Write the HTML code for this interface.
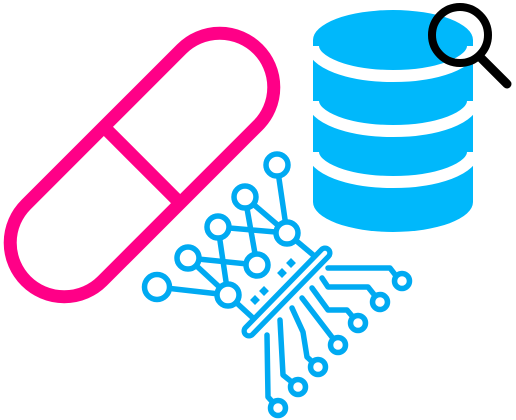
<!DOCTYPE html>
<html><head><meta charset="utf-8"><style>html,body{margin:0;padding:0;background:#fff}svg{display:block}</style></head>
<body>
<svg width="516" height="420" viewBox="0 0 516 420" xmlns="http://www.w3.org/2000/svg">
<!-- pill -->
<g transform="translate(142,165) rotate(-45)" fill="none" stroke="#ff0087" stroke-width="13">
<rect x="-164" y="-54" width="328" height="108" rx="54"/>
<line x1="0" y1="-54" x2="0" y2="54"/>
</g>
<!-- database -->
<path d="M313,40 L313,202 A80,30 0 0 0 473,202 L473,40 Z" fill="#00b8fb"/>
<ellipse cx="393" cy="40" rx="80" ry="30" fill="#00b8fb"/>
<g fill="none" stroke="#fff" stroke-width="12">
<path d="M313,46 A80,30 0 0 0 473,46"/>
<path d="M313,101 A80,30 0 0 0 473,101"/>
<path d="M313,152 A80,30 0 0 0 473,152"/>
</g>
<!-- magnifier -->
<circle cx="460" cy="35" r="28" fill="none" stroke="#000" stroke-width="8"/>
<line x1="480" y1="57" x2="507" y2="84" stroke="#000" stroke-width="9" stroke-linecap="round"/>
<!-- circuit -->
<g fill="none" stroke="#00aaf2" stroke-width="5.5" stroke-linejoin="round" stroke-linecap="round">
<line x1="277" y1="165" x2="287" y2="233"/>
<line x1="245" y1="197" x2="287" y2="233"/>
<line x1="245" y1="197" x2="257" y2="265"/>
<line x1="218" y1="227" x2="287" y2="233"/>
<line x1="218" y1="227" x2="228" y2="295"/>
<line x1="188" y1="258" x2="257" y2="265"/>
<line x1="188" y1="258" x2="228" y2="295"/>
<line x1="157" y1="287" x2="228" y2="295"/>
<line x1="287" y1="233" x2="318" y2="259"/>
<line x1="228" y1="295" x2="253" y2="318"/>
<g fill="#fff">
<circle cx="277" cy="165" r="11"/>
<circle cx="245" cy="197" r="11"/>
<circle cx="218" cy="227" r="11"/>
<circle cx="287" cy="233" r="11"/>
<circle cx="188" cy="258" r="11"/>
<circle cx="257" cy="265" r="11"/>
<circle cx="157" cy="287" r="12.5"/>
<circle cx="228" cy="295" r="11"/>
</g>
<line x1="325" y1="253" x2="249" y2="331" stroke-width="15"/>
<line x1="325" y1="253" x2="249" y2="331" stroke="#fff" stroke-width="4.5"/>
<polyline points="328,268 390,268 400,281"/>
<polyline points="322,278 328,287 368,287 380,302"/>
<polyline points="312,288 328,310 347,310 358,323"/>
<polyline points="302,298 338,345"/>
<polyline points="292,308 303,332 307,357 318,367"/>
<polyline points="280,320 283,375 298,387"/>
<polyline points="267,335 268,397 278,408"/>
<g fill="#fff">
<circle cx="402" cy="281" r="7.5"/>
<circle cx="380" cy="302" r="7.5"/>
<circle cx="358" cy="323" r="7.5"/>
<circle cx="338" cy="345" r="7.5"/>
<circle cx="318" cy="367" r="7.5"/>
<circle cx="298" cy="387" r="7.5"/>
<circle cx="278" cy="408" r="7.5"/>
</g>
</g>
<g fill="#00aaf2">
<rect x="-3.5" y="-3.5" width="7" height="7" transform="translate(282,273) rotate(45)"/>
<rect x="-3.5" y="-3.5" width="7" height="7" transform="translate(291,263) rotate(45)"/>
<rect x="-3.5" y="-3.5" width="7" height="7" transform="translate(255,300) rotate(45)"/>
<rect x="-3.5" y="-3.5" width="7" height="7" transform="translate(264,291) rotate(45)"/>
</g>
</svg>
</body></html>
